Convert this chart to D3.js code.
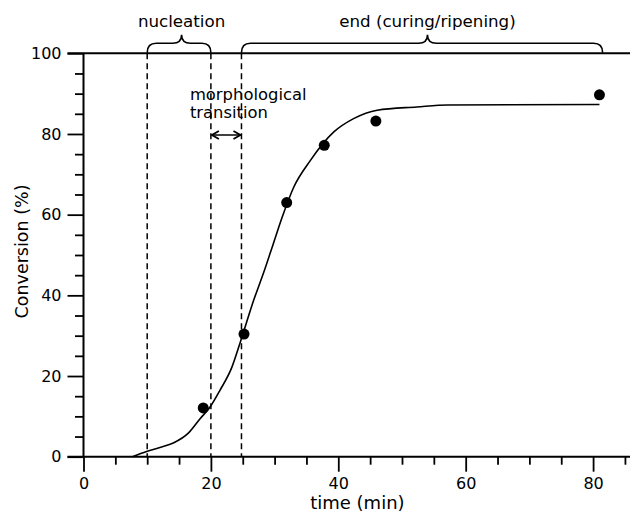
<!DOCTYPE html>
<html>
<head>
<meta charset="utf-8">
<script src="https://cdn.jsdelivr.net/npm/d3@7/dist/d3.min.js"></script>
<style>
  html, body { margin: 0; padding: 0; background: #fff; }
  svg { display: block; }
  text { font-family: "DejaVu Sans", sans-serif; fill: #000; }
</style>
</head>
<body>
<svg id="chart" width="630" height="513"></svg>
<script>
// ---- data ----
const fitTime = [7.7, 9.9, 12.0, 14.1, 16.5, 18.3, 19.9, 21.4, 23.3, 24.6, 26.7, 28.3, 29.8, 31.2, 33.0, 35.6, 39.3, 42.4, 46.1, 52.3, 57.2, 81.0];
const fitConv = [0.0, 1.3, 2.3, 3.4, 5.9, 9.4, 12.4, 16.4, 22.2, 28.3, 38.7, 45.7, 52.8, 59.4, 66.8, 73.4, 80.5, 83.8, 85.9, 86.7, 87.2, 87.3];
const obsTime = [18.8, 25.2, 31.9, 37.8, 45.9, 81.0];
const obsConv = [12.1, 30.4, 63.0, 77.2, 83.2, 89.7];
const xMajorTicks = [0, 20, 40, 60, 80];
const yMajorTicks = [0, 20, 40, 60, 80, 100];
const phaseLines = [10, 20, 24.8];
const braceStart = [10, 24.8];
const braceEnd = [20, 81.5];
const braceTip = [15.4, 54.0];
const braceLabels = ["nucleation", "end (curing/ripening)"];
const xTitle = "time (min)";
const yTitle = "Conversion (%)";
const transitionLabel = ["morphological", "transition"];

// ---- scales ----
const svg = d3.select("#chart");
const x = d3.scaleLinear().domain([0, 86]).range([83.5, 631.3]);
const y = d3.scaleLinear().domain([0, 100]).range([456.7, 53.3]);

const xMinor = d3.range(5, 86, 5).filter(v => v % 20 !== 0);
const yMinor = d3.range(5, 100, 5).filter(v => v % 20 !== 0);

// ---- axes ----
const gx = svg.append("g").attr("transform", `translate(0,${y(0)})`);
gx.call(d3.axisBottom(x).tickValues(xMajorTicks).tickSize(15).tickPadding(6).tickFormat(d3.format("d")));
gx.call(g => g.select(".domain").remove());
gx.selectAll("text").style("font-size", "16px").style("font-family", "DejaVu Sans");
const gxm = svg.append("g").attr("transform", `translate(0,${y(0)})`);
gxm.call(d3.axisBottom(x).tickValues(xMinor).tickSize(8).tickFormat(""));
gxm.call(g => g.select(".domain").remove());

const gy = svg.append("g").attr("transform", `translate(${x(0)},0)`);
gy.call(d3.axisLeft(y).tickValues(yMajorTicks).tickSize(16).tickPadding(6).tickFormat(d3.format("d")));
gy.call(g => g.select(".domain").remove());
gy.selectAll("text").style("font-size", "16px").style("font-family", "DejaVu Sans");
const gym = svg.append("g").attr("transform", `translate(${x(0)},0)`);
gym.call(d3.axisLeft(y).tickValues(yMinor).tickSize(8.5).tickFormat(""));
gym.call(g => g.select(".domain").remove());

svg.selectAll(".tick line").attr("stroke", "#000").attr("stroke-width", 1.8);

// frame lines
svg.append("line").attr("x1", x(0)).attr("x2", x(0)).attr("y1", y(100)).attr("y2", y(0))
  .attr("stroke", "#000").attr("stroke-width", 2);
svg.append("line").attr("x1", x(0) - 16).attr("x2", 630).attr("y1", y(0)).attr("y2", y(0))
  .attr("stroke", "#000").attr("stroke-width", 2);
svg.append("line").attr("x1", x(0) - 16).attr("x2", 630).attr("y1", y(100)).attr("y2", y(100))
  .attr("stroke", "#000").attr("stroke-width", 2);

// axis titles
svg.append("text").attr("x", x(43)).attr("y", 509).attr("text-anchor", "middle")
  .style("font-size", "18px").text(xTitle);
svg.append("text").attr("transform", `translate(28,${251.5}) rotate(-90)`).attr("text-anchor", "middle")
  .style("font-size", "17.5px").text(yTitle);

// dashed phase lines
svg.selectAll(".phase").data(phaseLines).join("line")
  .attr("x1", d => x(d)).attr("x2", d => x(d))
  .attr("y1", y(100)).attr("y2", y(0))
  .attr("stroke", "#000").attr("stroke-width", 1.5).attr("stroke-dasharray", "6,4");

// braces
function bracePath(x1, x2, xt, yb) {
  const yf = yb - 9.5, ytip = yb - 18, r = 9;
  return `M${x1},${yb} Q${x1},${yf} ${x1 + r},${yf} L${xt - r},${yf} Q${xt},${yf} ${xt},${ytip}` +
         ` Q${xt},${yf} ${xt + r},${yf} L${x2 - r},${yf} Q${x2},${yf} ${x2},${yb}`;
}
braceStart.forEach((s, i) => {
  svg.append("path").attr("d", bracePath(x(s), x(braceEnd[i]), x(braceTip[i]), y(100) - 0.5))
    .attr("fill", "none").attr("stroke", "#000").attr("stroke-width", 1.6);
  svg.append("text").attr("x", x(braceTip[i])).attr("y", 27).attr("text-anchor", "middle")
    .style("font-size", "16.7px").text(braceLabels[i]);
});

// morphological transition label and arrow
svg.append("text").attr("x", x(16.7)).attr("y", 100).style("font-size", "16.4px").text(transitionLabel[0]);
svg.append("text").attr("x", x(16.7)).attr("y", 118).style("font-size", "16.4px").text(transitionLabel[1]);
const ay = 135;
const ax1 = x(phaseLines[1]) + 1, ax2 = x(phaseLines[2]) - 1;
svg.append("line").attr("x1", ax1).attr("x2", ax2).attr("y1", ay).attr("y2", ay)
  .attr("stroke", "#000").attr("stroke-width", 1.5);
svg.append("path").attr("d", `M${ax1 + 7},${ay - 4} L${ax1},${ay} L${ax1 + 7},${ay + 4} M${ax2 - 7},${ay - 4} L${ax2},${ay} L${ax2 - 7},${ay + 4}`)
  .attr("fill", "none").attr("stroke", "#000").attr("stroke-width", 1.8);

// fit curve
const fit = fitTime.map((t, i) => [t, fitConv[i]]);
svg.append("path").datum(fit)
  .attr("d", d3.line().x(d => x(d[0])).y(d => y(d[1])).curve(d3.curveMonotoneX))
  .attr("fill", "none").attr("stroke", "#000").attr("stroke-width", 1.6);

// observed points
svg.selectAll(".pt").data(obsTime.map((t, i) => [t, obsConv[i]])).join("circle")
  .attr("cx", d => x(d[0])).attr("cy", d => y(d[1])).attr("r", 5.5).attr("fill", "#000");
</script>
</body>
</html>
